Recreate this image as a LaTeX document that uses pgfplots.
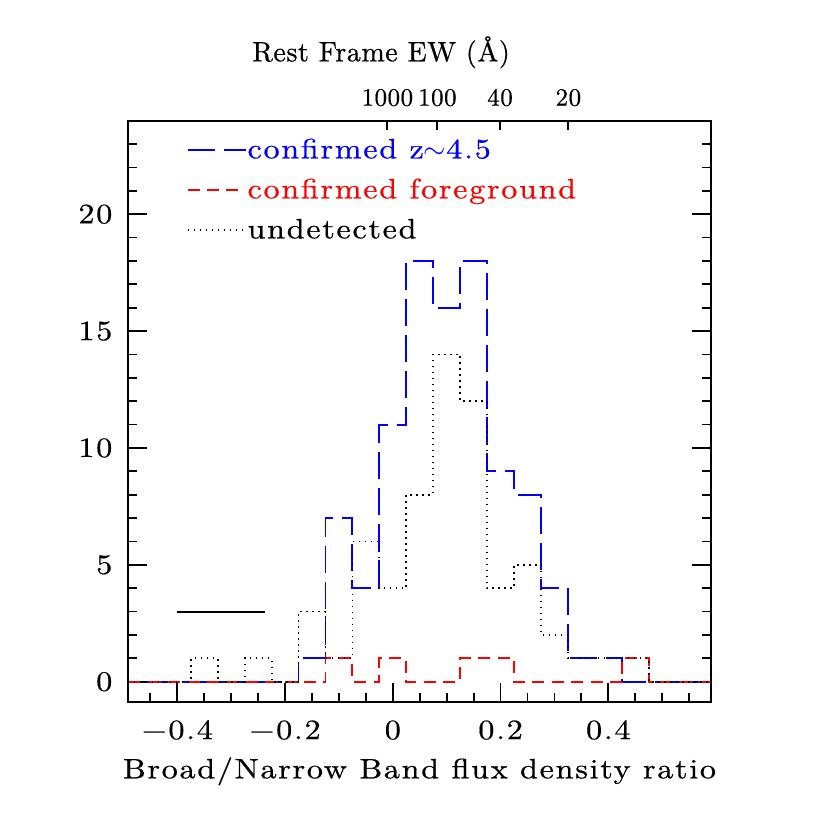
\documentclass[border=0pt]{standalone}
\usepackage{fontspec}
\setmainfont{lmroman10-regular.otf}[LetterSpace=6, FakeStretch=1.15, FakeBold=0.6]
\newfontfamily\tightfont{lmroman10-regular.otf}[LetterSpace=2, FakeBold=0.6]
\usepackage{pgfplots}
\pgfplotsset{compat=1.18}
\usepackage{pgfplotstable}

\pgfplotstableread{
x      blue red undet
-0.525 0    0   0
-0.475 0    0   0
-0.425 0    0   0
-0.375 0    0   1
-0.325 0    0   0
-0.275 0    0   1
-0.225 0    0   0
-0.175 1    0   3
-0.125 7    1   1
-0.075 4    0   6
-0.025 11   1   4
0.025  18   0   8
0.075  16   0   14
0.125  18   1   12
0.175  9    1   4
0.225  8    0   5
0.275  4    0   2
0.325  1    0   1
0.375  1    0   1
0.425  0    1   1
0.475  0    0   0
0.525  0    0   0
0.575  0    0   0
0.625  0    0   0
}\hist

\begin{document}
\fontsize{14}{16.8}\selectfont
\begin{tikzpicture}
\useasboundingbox (-64.15pt,-63.85pt) rectangle (350.85pt,351.15pt);
\begin{axis}[
  at={(0,0)}, anchor=south west,
  scale only axis, width=291.2pt, height=290.8pt,
  xmin=-0.491, xmax=0.590, ymin=-0.88, ymax=24,
  axis line style={line width=1pt},
  xtick={-0.4,-0.2,0,0.2,0.4},
  xticklabels={−0.4,−0.2,0,0.2,0.4},
  minor xtick={-0.45,-0.35,-0.3,-0.25,-0.15,-0.1,-0.05,0.05,0.1,0.15,0.25,0.3,0.35,0.45,0.5,0.55},
  ytick={0,5,10,15,20},
  yticklabels={0,5,10,15,20},
  minor ytick={1,2,3,4,6,7,8,9,11,12,13,14,16,17,18,19,21,22,23},
  xtick pos=bottom, ytick pos=both,
  tick align=inside,
  major tick length=9.5pt, minor tick length=4.6pt,
  every tick/.style={black, line width=0.9pt},
  xticklabel style={anchor=base, yshift=-18.4pt, inner sep=0pt},
  yticklabel style={anchor=east, xshift=-7.8pt, inner sep=0pt},
  xlabel={Broad/Narrow Band flux density ratio},
  xlabel style={at={(axis description cs:0.5,0)}, anchor=base, yshift=-38pt, inner sep=0pt},
  legend style={draw=none, fill=none, at={(axis description cs:0.1003,0.9673)}, anchor=north west,
    inner sep=0pt, outer sep=0pt, row sep=8.1pt, column sep=0.5pt,
    nodes={inner sep=0pt, text height=9.3pt, text depth=2.6pt}},
  legend cell align=left,
  legend image code/.code={\draw[#1] (0pt,1.0pt) -- (29pt,1.0pt);},
]
\addplot[const plot, blue, line width=0.95pt, dash pattern=on 13.5pt off 4.5pt] table[x=x, y=blue] {\hist};
\addlegendentry{\textcolor{blue}{confirmed z$\sim$4.5}}
\addplot[const plot, red, line width=0.95pt, dash pattern=on 6pt off 3.7pt] table[x=x, y=red] {\hist};
\addlegendentry{\textcolor{red}{confirmed foreground}}
\addplot[const plot, black, line width=0.9pt, dash pattern=on 0.75pt off 2.25pt] table[x=x, y=undet] {\hist};
\addlegendentry{undetected}
\addplot[black, line width=1pt, forget plot] coordinates {(-0.4,3) (-0.237,3)};
\end{axis}
\begin{axis}[
  at={(0,0)}, anchor=south west,
  scale only axis, width=291.2pt, height=290.8pt,
  xmin=-0.491, xmax=0.590, ymin=-0.88, ymax=24,
  axis x line*=top, axis y line=none,
  axis line style={line width=1pt},
  xtick={-0.0102,0.0826,0.199,0.3258},
  xticklabels={1000,100,40,20},
  tick align=inside, major tick length=4.5pt,
  every tick/.style={black, line width=0.9pt},
  xticklabel style={anchor=base, yshift=7.5pt, inner sep=0pt, font=\tightfont\fontsize{12.5}{14}\selectfont},
  title={\tightfont Rest Frame EW (Å)},
  title style={at={(axis description cs:0.434,1)}, anchor=base, yshift=23.7pt, inner sep=0pt},
]
\end{axis}
\end{tikzpicture}
\end{document}
